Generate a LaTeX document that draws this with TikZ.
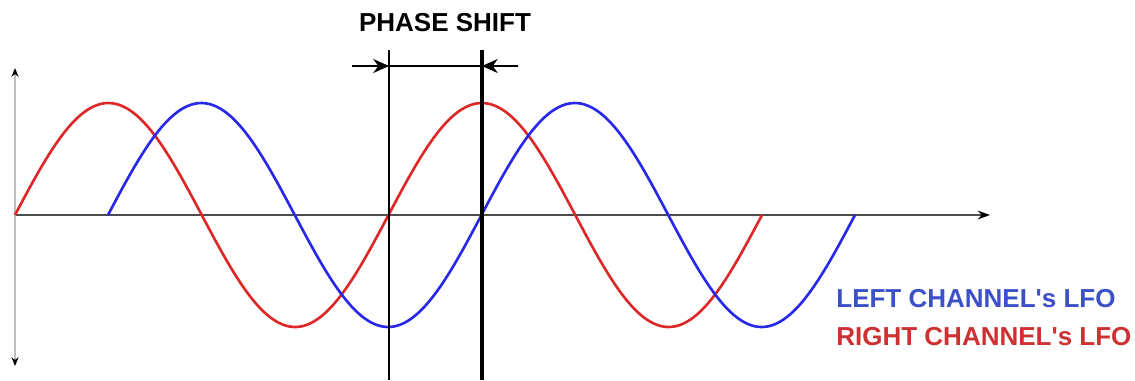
\documentclass[tikz,border=0pt]{standalone}
\usepackage{fontspec}
\setmainfont{Liberation Sans}
\usepackage{tikz}
\usepackage{xcolor}
\definecolor{lfored}{RGB}{222, 40, 40}
\definecolor{lfoblue}{RGB}{40, 40, 235}
\definecolor{labelblue}{RGB}{60, 80, 200}
\definecolor{labelred}{RGB}{205, 50, 50}
\usetikzlibrary{arrows.meta,positioning}

\tikzset{
    wave/.style={line width=1.5pt},
    axisline/.style={line width=1pt, black!70},
    marker/.style={draw=black},
    label/.style={font=\bfseries\fontsize{14.8}{16}\selectfont, inner sep=0pt}
}

\begin{document}
\begin{tikzpicture}[x=0.02cm, y=-0.02cm]
    \useasboundingbox (0, 0) rectangle (1135, 380);

    % Axes
    \coordinate (origin) at (15, 215);
    \coordinate (xend) at (990, 215);
    \coordinate (ytop) at (15, 68);
    \coordinate (ybot) at (15, 366);
    \draw[axisline, -{Stealth[length=7pt, width=5pt, black]}] (origin) -- (xend);
    \draw[line width=1pt, black!25, {Stealth[length=5pt, width=4pt, black]}-{Stealth[length=5pt, width=4pt, black]}] (ytop) -- (ybot);

    % LFO curves
    \draw[wave, lfored, domain=15:762, samples=200, smooth]
        plot (\x, {215 - 112*sin((\x-15)/373.5*360)});
    \draw[wave, lfoblue, domain=108:855, samples=200, smooth]
        plot (\x, {215 - 112*sin((\x-108)/373.5*360)});

    % Phase shift markers
    \coordinate (redtop) at (389, 50);
    \coordinate (redbot) at (389, 380);
    \coordinate (bluetop) at (482, 50);
    \coordinate (bluebot) at (482, 380);
    \draw[marker, line width=0.9pt] (redtop) -- (redbot);
    \draw[marker, line width=2.4pt] (bluetop) -- (bluebot);

    \coordinate (leftstart) at (352, 66);
    \coordinate (lefttip) at (389, 66);
    \coordinate (righttip) at (482, 66);
    \coordinate (rightstart) at (518, 66);
    \draw[marker, line width=0.9pt, -{Stealth[length=9pt, width=8pt]}] (leftstart) -- (lefttip);
    \draw[marker, line width=0.9pt] (lefttip) -- (righttip);
    \draw[marker, line width=0.9pt, -{Stealth[length=9pt, width=8pt]}] (rightstart) -- (righttip);

    \node[label] (shift) at (445, 23) {PHASE SHIFT};

    % Legend
    \node[label, labelblue, anchor=west] (left) at (836, 299) {LEFT CHANNEL\textquotesingle s LFO};
    \node[label, labelred, anchor=west] (right) at (836, 337) {RIGHT CHANNEL\textquotesingle s LFO};
\end{tikzpicture}
\end{document}
